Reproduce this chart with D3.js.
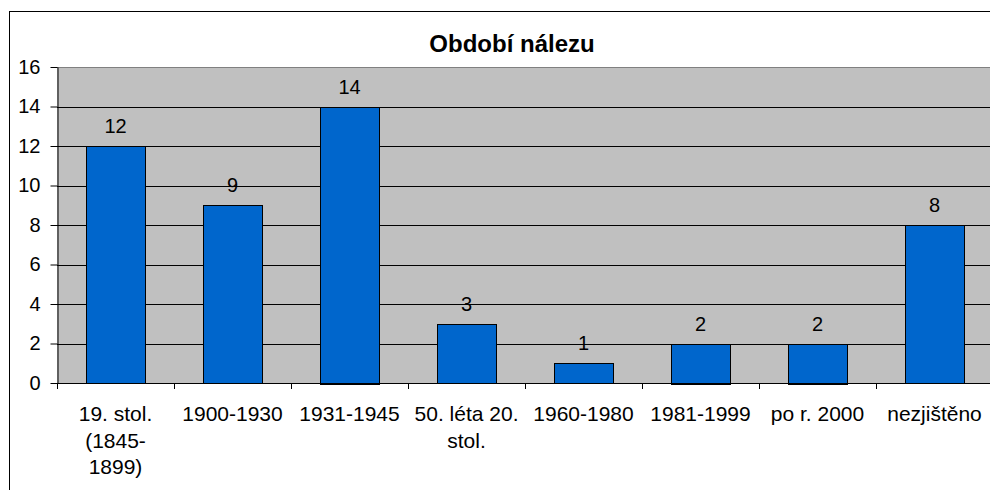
<!DOCTYPE html>
<html>
<head>
<meta charset="utf-8">
<script src="https://cdn.jsdelivr.net/npm/d3@7"></script>
<style>
  body { margin: 0; background: #fff; }
  text { font-family: "Liberation Sans", Arial, sans-serif; fill: #000; }
</style>
</head>
<body>
<svg class="plot" width="990" height="490"></svg>
<script>
// data
var categories = ["19. stol. (1845- 1899)", "1900-1930", "1931-1945", "50. léta 20. stol.", "1960-1980", "1981-1999", "po r. 2000", "nezjištěno"];
var catLines = [["19. stol.", "(1845-", "1899)"], ["1900-1930"], ["1931-1945"], ["50. léta 20.", "stol."], ["1960-1980"], ["1981-1999"], ["po r. 2000"], ["nezjištěno"]];
var values = [12, 9, 14, 3, 1, 2, 2, 8];
var yTicks = [0, 2, 4, 6, 8, 10, 12, 14, 16];

var svg = d3.select(".plot"),
    margin = {top: 67, left: 57},
    width = 936,
    height = 316;

// outer chart border
svg.append("rect")
    .attr("x", 9.5).attr("y", 11.5)
    .attr("width", 1000).attr("height", 500)
    .attr("fill", "#fff")
    .attr("stroke", "#000")
    .attr("stroke-width", 1);

var x = d3.scaleBand().domain(categories).range([0, width]).paddingInner(0.5).paddingOuter(0.25);
var y = d3.scaleLinear().domain([0, 16]).range([height, 0]);

var g = svg.append("g")
    .attr("transform", "translate(" + margin.left + "," + margin.top + ")");

// plot background
g.append("rect")
    .attr("width", width).attr("height", height)
    .attr("fill", "#c0c0c0");

// gridlines
g.selectAll(".grid")
    .data(yTicks.filter(function(d) { return d > 0; }))
    .enter().append("line")
    .attr("x1", 0).attr("x2", width)
    .attr("y1", function(d) { return Math.round(y(d)) + 0.5; })
    .attr("y2", function(d) { return Math.round(y(d)) + 0.5; })
    .attr("stroke", function(d) { return d === 16 ? "#808080" : "#000"; })
    .attr("stroke-width", 1);

// bars
g.selectAll(".bar")
    .data(values)
    .enter().append("rect")
    .attr("class", "bar")
    .attr("x", function(d, i) { return Math.round(x(categories[i])) + 0.5; })
    .attr("y", function(d) { return Math.round(y(d)) + 0.5; })
    .attr("width", Math.round(x.bandwidth()))
    .attr("height", function(d) { return Math.round(height - y(d)); })
    .attr("fill", "#0066cc")
    .attr("stroke", "#000")
    .attr("stroke-width", 1);

// value labels
g.selectAll(".bar-label")
    .data(values)
    .enter().append("text")
    .attr("class", "bar-label")
    .attr("x", function(d, i) { return x(categories[i]) + x.bandwidth() / 2; })
    .attr("y", function(d) { return y(d) - 13; })
    .attr("text-anchor", "middle")
    .style("font-size", "20px")
    .text(function(d) { return d; });

// y axis
var yAxis = g.append("g")
    .attr("transform", "translate(0.5,0)")
    .call(d3.axisLeft(y).tickValues(yTicks).tickSize(7).tickSizeOuter(0));
yAxis.select(".domain").attr("stroke", "#000");
yAxis.selectAll("text")
    .attr("x", -17)
    .style("font-size", "20px")
    .style("font-family", "Liberation Sans, Arial, sans-serif");

// x axis (ticks at band boundaries)
var bounds = d3.range(categories.length + 1).map(function(i) { return i * width / categories.length; });
g.append("line")
    .attr("x1", 0).attr("x2", width)
    .attr("y1", height + 0.5).attr("y2", height + 0.5)
    .attr("stroke", "#000");
g.selectAll(".xtick")
    .data(bounds)
    .enter().append("line")
    .attr("x1", function(d) { return Math.round(d) + 0.5; })
    .attr("x2", function(d) { return Math.round(d) + 0.5; })
    .attr("y1", height).attr("y2", height + 6)
    .attr("stroke", "#000");

var xl = g.selectAll(".xlabel")
    .data(categories)
    .enter().append("text")
    .attr("class", "xlabel")
    .attr("text-anchor", "middle")
    .attr("transform", function(d) { return "translate(" + (x(d) + x.bandwidth() / 2) + "," + (height + 38) + ")"; })
    .style("font-size", "21px");
xl.selectAll("tspan")
    .data(function(d, i) { return catLines[i]; })
    .enter().append("tspan")
    .attr("x", 0)
    .attr("dy", function(d, i) { return i === 0 ? 0 : 26.5; })
    .text(function(d) { return d; });

// title
svg.append("text")
    .attr("x", 512)
    .attr("y", 52)
    .attr("text-anchor", "middle")
    .style("font-size", "24px")
    .style("font-weight", "bold")
    .text("Období nálezu");
</script>
</body>
</html>
